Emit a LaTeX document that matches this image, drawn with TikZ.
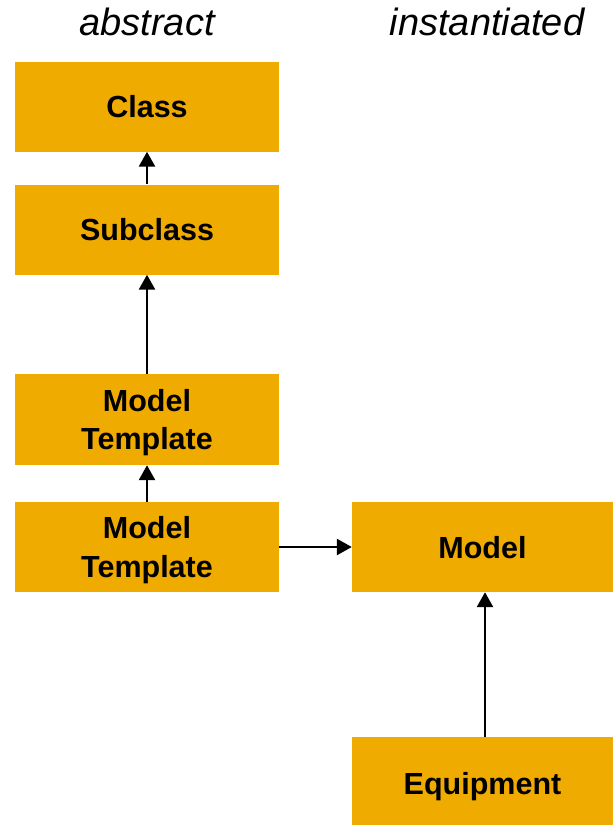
\documentclass[tikz,border=0pt]{standalone}
\usepackage{fontspec}
\setmainfont{Liberation Sans}
\usetikzlibrary{arrows.meta}
\definecolor{boxfill}{RGB}{240,171,0}
\tikzset{
  box/.style={fill=boxfill, draw=none, minimum width=264pt, minimum height=90pt,
    inner sep=0pt, text depth=0pt, align=center,
    font=\fontsize{30.5}{38.5}\selectfont\bfseries},
  head/.style={font=\fontsize{38}{44}\selectfont\itshape, inner sep=0pt},
  link/.style={line width=2.6pt, -{Triangle[width=16pt,length=15pt]}}
}
\begin{document}
\begin{tikzpicture}[x=1pt,y=-1pt]
  \useasboundingbox (0,0) rectangle (613,825);
  % column headings
  \node[head] (habs) at (147,22) {abstract};
  \node[head] (hins) at (487,22) {instantiated};
  % abstract column
  \node[box] (class) at (147,106.5) {Class};
  \node[box] (sub)   at (147,229.5) {Subclass};
  \node[box, minimum height=91pt] (mt1) at (147,419.5) {Model\\Template};
  \node[box] (mt2)   at (147,547)   {Model\\Template};
  % instantiated column
  \node[box, minimum width=261pt] (model) at (482.5,547) {Model};
  \node[box, minimum width=261pt, minimum height=92pt] (equip) at (482.5,783) {Equipment};
  % connectors
  \draw[link] (sub.north) -- (class.south);
  \draw[link] (mt1.north) -- (sub.south);
  \draw[link] (mt2.north) -- (mt1.south);
  \draw[link] (mt2.east) -- (model.west);
  \draw[link] (equip.north -| 485,0) -- (model.south -| 485,0);
\end{tikzpicture}
\end{document}
